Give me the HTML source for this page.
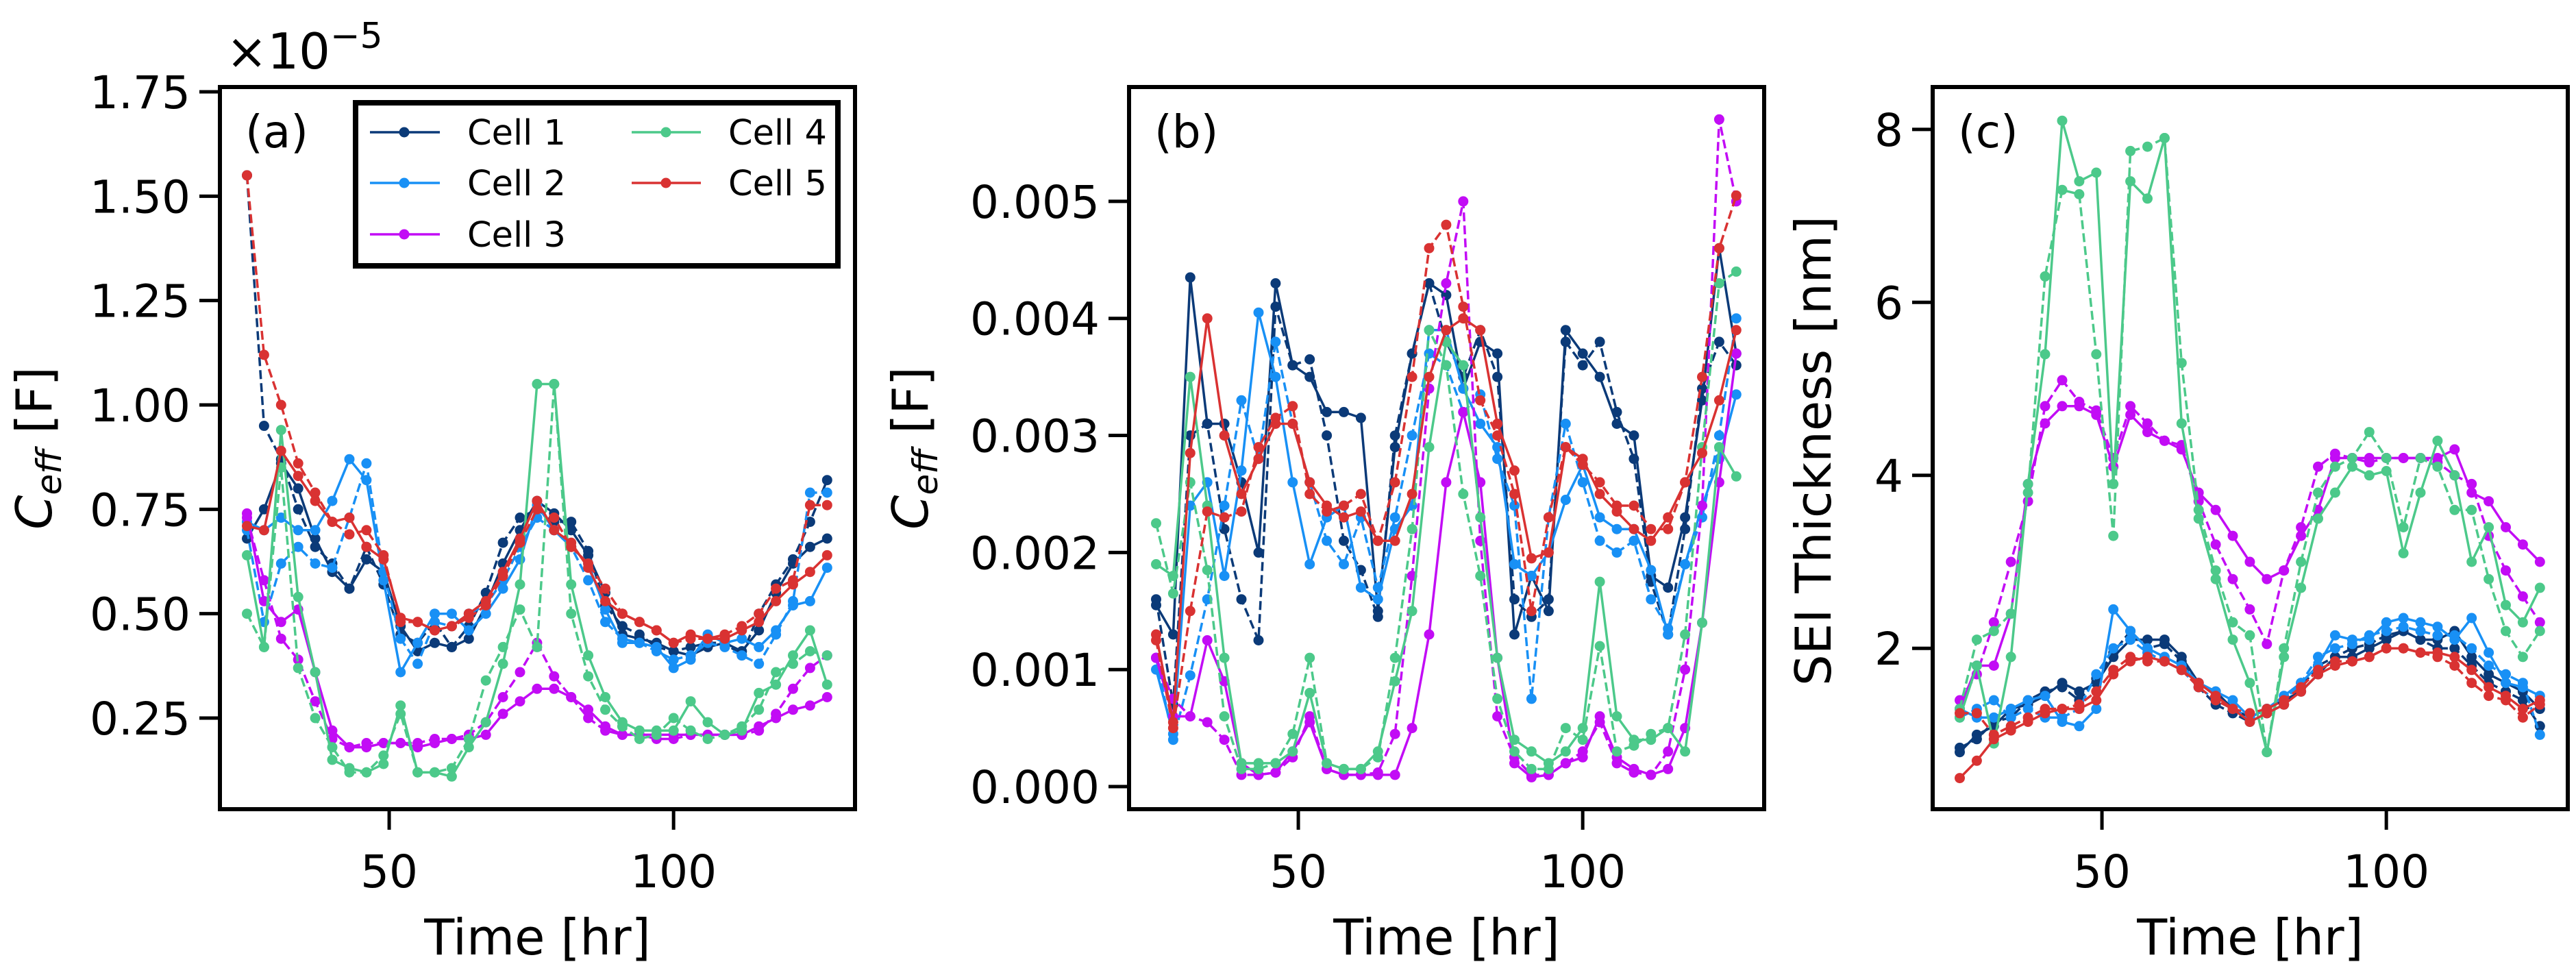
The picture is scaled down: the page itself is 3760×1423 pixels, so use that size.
<!DOCTYPE html>
<html><head><meta charset="utf-8">
<style>
html,body{margin:0;padding:0;background:#fff;}
svg{display:block;font-family:"DejaVu Sans","Liberation Sans",sans-serif;}
</style></head>
<body>
<svg id="fig" width="3760" height="1423" viewBox="0 0 3760 1423" xmlns="http://www.w3.org/2000/svg"></svg>
<script>
// ---------- data ----------
const times = [25,28,31,34,37,40,43,46,49,52,55,58,61,64,67,70,73,76,79,82,85,88,91,94,97,100,103,106,109,112,115,118,121,124,127];
const cellNames = ["Cell 1","Cell 2","Cell 3","Cell 4","Cell 5"];
const cellColors = ["#0b3a78","#1890f5","#c20cf5","#4cc98a","#d93232"];

// Panel (a): Ceff x1e-5
const aCell1Solid = [0.68,0.75,0.86,0.80,0.68,0.60,0.56,0.63,0.60,0.47,0.41,0.43,0.42,0.44,0.52,0.62,0.70,0.77,0.74,0.70,0.64,0.55,0.45,0.44,0.43,0.41,0.40,0.42,0.43,0.41,0.46,0.55,0.62,0.66,0.68];
const aCell1Dash  = [1.55,0.95,0.87,0.75,0.66,0.62,0.56,0.66,0.57,0.45,0.43,0.48,0.42,0.47,0.55,0.67,0.73,0.75,0.72,0.72,0.65,0.52,0.47,0.45,0.42,0.41,0.42,0.43,0.43,0.40,0.50,0.57,0.63,0.72,0.82];
const aCell2Solid = [0.72,0.70,0.73,0.70,0.70,0.77,0.87,0.82,0.58,0.36,0.43,0.50,0.50,0.46,0.50,0.56,0.63,0.76,0.70,0.66,0.62,0.51,0.43,0.43,0.42,0.37,0.39,0.45,0.43,0.44,0.42,0.46,0.52,0.53,0.61];
const aCell2Dash  = [0.70,0.48,0.62,0.66,0.62,0.61,0.73,0.86,0.60,0.44,0.38,0.48,0.47,0.50,0.52,0.58,0.66,0.73,0.70,0.66,0.58,0.48,0.44,0.43,0.41,0.39,0.40,0.43,0.42,0.40,0.38,0.45,0.53,0.79,0.79];
const aCell3Solid = [0.74,0.53,0.48,0.51,0.36,0.22,0.18,0.18,0.19,0.19,0.18,0.19,0.20,0.20,0.21,0.26,0.29,0.32,0.32,0.30,0.27,0.23,0.21,0.21,0.21,0.21,0.21,0.21,0.21,0.21,0.23,0.25,0.27,0.28,0.30];
const aCell3Dash  = [0.73,0.58,0.44,0.39,0.29,0.20,0.18,0.19,0.19,0.19,0.19,0.20,0.20,0.21,0.24,0.30,0.36,0.43,0.35,0.30,0.25,0.22,0.21,0.21,0.20,0.20,0.21,0.21,0.21,0.21,0.22,0.26,0.32,0.37,0.40];
const aCell4Solid = [0.64,0.42,0.94,0.54,0.36,0.15,0.13,0.12,0.14,0.28,0.12,0.12,0.11,0.18,0.24,0.38,0.57,1.05,1.05,0.57,0.40,0.30,0.24,0.22,0.22,0.22,0.29,0.24,0.21,0.22,0.31,0.33,0.40,0.46,0.33];
const aCell4Dash  = [0.50,0.42,0.85,0.37,0.25,0.18,0.12,0.12,0.16,0.26,0.12,0.12,0.13,0.20,0.34,0.42,0.51,0.42,1.05,0.50,0.35,0.27,0.23,0.20,0.21,0.25,0.22,0.20,0.21,0.23,0.27,0.36,0.38,0.41,0.40];
const aCell5Solid = [0.71,0.70,0.89,0.83,0.77,0.72,0.73,0.66,0.63,0.49,0.48,0.46,0.47,0.50,0.53,0.60,0.68,0.77,0.70,0.67,0.61,0.53,0.50,0.48,0.46,0.43,0.45,0.44,0.44,0.46,0.48,0.53,0.57,0.60,0.64];
const aCell5Dash  = [1.55,1.12,1.00,0.86,0.79,0.72,0.69,0.70,0.64,0.48,0.48,0.46,0.47,0.49,0.52,0.59,0.67,0.75,0.73,0.66,0.62,0.56,0.50,0.48,0.46,0.43,0.44,0.44,0.45,0.47,0.50,0.56,0.58,0.76,0.76];

// Panel (b): Ceff in mF (x1e-3 F)
const bCell1Solid = [1.55,1.3,4.35,3.1,3.1,2.6,2.0,4.3,3.6,3.5,3.2,3.2,3.15,1.5,2.9,3.7,4.3,4.2,3.4,3.8,3.7,1.3,1.8,1.5,3.9,3.7,3.5,3.1,3.0,1.8,1.7,2.3,3.3,4.6,3.7];
const bCell1Dash  = [1.6,0.7,3.0,3.1,2.2,1.6,1.25,4.1,3.6,3.65,3.0,2.1,1.85,1.45,3.0,3.7,4.3,3.8,3.5,3.9,3.5,1.6,1.45,1.6,3.8,3.6,3.8,3.2,2.8,1.75,1.3,2.2,3.4,3.8,3.6];
const bCell2Solid = [1.0,0.45,2.4,2.6,1.8,2.7,4.05,3.5,2.6,1.9,2.3,2.4,1.7,1.6,2.2,2.4,3.9,3.9,3.4,3.1,2.9,1.9,1.8,2.0,2.45,2.75,2.3,2.2,2.2,1.85,1.3,1.9,2.4,2.8,3.35];
const bCell2Dash  = [1.1,0.4,0.95,1.6,2.4,3.3,2.8,3.8,3.1,2.6,2.1,1.9,2.3,1.7,2.3,3.0,3.7,3.6,3.2,3.35,2.8,2.4,0.75,2.3,3.1,2.6,2.1,2.0,2.1,1.6,1.35,1.9,2.3,3.0,4.0];
const bCell3Solid = [1.1,0.6,0.6,1.25,0.9,0.2,0.1,0.12,0.3,0.55,0.15,0.1,0.1,0.1,0.1,0.5,1.3,2.6,3.2,2.6,1.1,0.2,0.08,0.1,0.2,0.25,0.6,0.25,0.15,0.1,0.15,0.5,1.4,2.6,3.7];
const bCell3Dash  = [1.1,0.75,0.6,0.55,0.4,0.1,0.1,0.12,0.25,0.6,0.15,0.1,0.1,0.12,0.45,1.8,3.4,4.3,5.0,2.1,0.6,0.25,0.1,0.1,0.2,0.3,0.55,0.2,0.12,0.1,0.3,1.0,2.4,5.7,5.0];
const bCell4Solid = [1.9,1.8,3.5,2.4,1.1,0.2,0.2,0.2,0.3,0.8,0.2,0.15,0.15,0.3,0.9,1.5,2.9,3.8,3.6,2.3,1.1,0.4,0.3,0.2,0.3,0.5,1.75,0.6,0.4,0.4,0.5,0.3,1.4,2.9,2.65];
const bCell4Dash  = [2.25,1.65,2.6,1.85,0.6,0.15,0.15,0.2,0.45,1.1,0.2,0.15,0.15,0.25,1.1,2.2,3.9,3.6,2.5,1.8,0.75,0.3,0.15,0.15,0.5,0.4,1.2,0.3,0.35,0.45,0.5,1.3,2.9,4.3,4.4];
const bCell5Solid = [1.3,0.55,2.85,4.0,3.0,2.5,2.8,3.1,3.1,2.6,2.4,2.3,2.35,2.1,2.1,2.5,3.5,3.9,4.0,3.9,3.1,2.7,1.95,2.0,2.9,2.8,2.5,2.35,2.2,2.1,2.3,2.6,2.85,3.3,3.9];
const bCell5Dash  = [1.25,0.5,1.5,2.35,2.3,2.35,2.9,3.15,3.25,2.5,2.35,2.4,2.5,2.1,2.6,3.5,4.6,4.8,4.1,3.3,3.0,2.5,1.5,2.3,2.9,2.75,2.6,2.4,2.4,2.2,2.2,2.6,3.5,4.6,5.05];

// Panel (c): SEI thickness nm
const cCell1Solid = [0.8,1.0,1.1,1.3,1.35,1.45,1.6,1.5,1.6,1.9,2.1,2.1,2.1,1.9,1.6,1.5,1.3,1.2,1.3,1.4,1.5,1.7,1.9,1.9,2.0,2.1,2.2,2.1,2.1,2.2,1.9,1.7,1.6,1.5,1.3];
const cCell1Dash  = [0.85,0.95,1.15,1.2,1.4,1.5,1.55,1.4,1.65,1.95,2.2,2.0,2.05,1.85,1.55,1.35,1.25,1.15,1.25,1.35,1.55,1.8,1.9,2.0,2.05,2.15,2.2,2.1,2.0,2.0,1.8,1.6,1.5,1.4,1.1];
const cCell2Solid = [1.3,1.2,1.2,1.3,1.4,1.45,1.15,1.1,1.3,2.45,2.2,2.0,1.9,1.8,1.6,1.5,1.4,1.2,1.3,1.45,1.6,1.8,2.15,2.1,2.1,2.3,2.35,2.3,2.25,2.1,2.35,1.95,1.6,1.55,1.45];
const cCell2Dash  = [1.2,1.3,1.4,1.2,1.3,1.2,1.2,1.3,1.7,2.0,2.1,1.95,1.85,1.75,1.55,1.4,1.3,1.2,1.3,1.4,1.6,1.9,2.0,2.05,2.15,2.2,2.25,2.2,2.15,2.15,2.0,1.8,1.7,1.6,1.0];
const cCell3Solid = [1.3,1.8,1.8,2.4,3.9,4.6,4.8,4.8,4.7,4.1,4.7,4.5,4.4,4.3,3.8,3.6,3.3,3.0,2.8,2.9,3.3,3.6,4.2,4.2,4.2,4.2,4.2,4.2,4.2,4.3,3.8,3.7,3.4,3.2,3.0];
const cCell3Dash  = [1.4,1.7,2.3,3.0,3.7,4.8,5.1,4.85,4.75,4.2,4.8,4.6,4.4,4.35,3.7,3.2,2.8,2.45,2.05,2.9,3.4,4.1,4.25,4.2,4.15,4.2,4.2,4.2,4.15,4.0,3.9,3.3,2.9,2.6,2.3];
const cCell4Solid = [1.2,1.8,0.9,1.9,3.9,5.4,8.1,7.4,7.5,3.9,7.4,7.2,7.9,4.6,3.5,2.8,2.1,1.6,0.8,1.9,2.7,3.5,3.8,4.1,4.0,4.05,3.1,3.8,4.4,4.0,3.0,3.4,2.5,2.3,2.7];
const cCell4Dash  = [1.3,2.1,2.2,2.4,3.8,6.3,7.3,7.25,5.4,3.3,7.75,7.8,7.9,5.3,3.6,2.9,2.3,2.15,0.8,2.0,3.0,3.8,4.1,4.2,4.5,4.2,3.4,4.2,4.1,3.6,3.6,2.8,2.2,1.9,2.2];
const cCell5Solid = [0.5,0.7,0.95,1.05,1.15,1.25,1.3,1.3,1.4,1.7,1.85,1.9,1.85,1.75,1.6,1.45,1.3,1.15,1.25,1.35,1.5,1.7,1.8,1.85,1.9,2.0,2.0,1.95,1.95,1.9,1.75,1.55,1.45,1.3,1.4];
const cCell5Dash  = [1.25,1.25,1.0,1.1,1.2,1.3,1.3,1.35,1.5,1.75,1.9,1.85,1.85,1.75,1.55,1.4,1.3,1.25,1.3,1.4,1.55,1.75,1.85,1.85,1.9,2.0,2.0,1.95,1.9,1.8,1.6,1.45,1.4,1.2,1.35];

const aTicks = [0.25,0.50,0.75,1.00,1.25,1.50,1.75];
const aTickLabels = ["0.25","0.50","0.75","1.00","1.25","1.50","1.75"];
const bTicks = [0,1,2,3,4,5];
const bTickLabels = ["0.000","0.001","0.002","0.003","0.004","0.005"];
const cTicks = [2,4,6,8];
const cTickLabels = ["2","4","6","8"];
const xTicks = [50,100];
const xTickLabels = ["50","100"];

// ---------- drawing ----------
const NS = "http://www.w3.org/2000/svg";
const svg = document.getElementById("fig");
function mk(tag, attrs, parent){
  const e = document.createElementNS(NS, tag);
  for (const k in attrs) e.setAttribute(k, attrs[k]);
  (parent||svg).appendChild(e);
  return e;
}
const XMIN = 20.24, XMAX = 131.9;
const TOP = 127, BOTTOM = 1181;

const panels = [
  {id:"a", left:321, right:1248, ymin:0.0317, ymax:1.7615, ticks:aTicks, labels:aTickLabels,
   series:[[aCell1Solid,aCell1Dash],[aCell2Solid,aCell2Dash],[aCell3Solid,aCell3Dash],[aCell4Solid,aCell4Dash],[aCell5Solid,aCell5Dash]]},
  {id:"b", left:1648, right:2575, ymin:-0.193, ymax:5.977, ticks:bTicks, labels:bTickLabels,
   series:[[bCell1Solid,bCell1Dash],[bCell2Solid,bCell2Dash],[bCell3Solid,bCell3Dash],[bCell4Solid,bCell4Dash],[bCell5Solid,bCell5Dash]]},
  {id:"c", left:2821, right:3748, ymin:0.14, ymax:8.49, ticks:cTicks, labels:cTickLabels,
   series:[[cCell1Solid,cCell1Dash],[cCell2Solid,cCell2Dash],[cCell3Solid,cCell3Dash],[cCell4Solid,cCell4Dash],[cCell5Solid,cCell5Dash]]}
];

panels.forEach(p => {
  const g = mk("g", {});
  
  
  const xs = t => p.left + (t - XMIN) / (XMAX - XMIN) * (p.right - p.left);
  const ys = v => BOTTOM - (v - p.ymin) / (p.ymax - p.ymin) * (BOTTOM - TOP);
  const clipId = "clip-" + p.id;
  const cp = mk("clipPath", {id: clipId}, g);
  mk("rect", {x:p.left, y:TOP, width:p.right-p.left, height:BOTTOM-TOP}, cp);
  const plot = mk("g", {"clip-path":"url(#"+clipId+")"}, g);
  p.series.forEach((pair, ci) => {
    pair.forEach((vals, si) => {
      const pts = vals.map((v,i) => xs(times[i]).toFixed(1)+","+ys(v).toFixed(1)).join(" ");
      const sg = mk("g", {}, plot);
      
      
      const attrs = {points:pts, fill:"none", stroke:cellColors[ci], "stroke-width":3.5, "stroke-linejoin":"round"};
      if (si) attrs["stroke-dasharray"] = "13,6";
      mk("polyline", attrs, sg);
      vals.forEach((v,i) => {
        const c = mk("circle", {cx:xs(times[i]).toFixed(1), cy:ys(v).toFixed(1), r:7.5, fill:cellColors[ci]}, sg);
        
        
      });
    });
  });
  // spines
  const fr = mk("rect", {x:p.left, y:TOP, width:p.right-p.left, height:BOTTOM-TOP, fill:"none", stroke:"#000", "stroke-width":6}, g);
  
  
  // y ticks
  p.ticks.forEach((v,i) => {
    const y = ys(v);
    mk("line", {x1:p.left-30, x2:p.left, y1:y, y2:y, stroke:"#000", "stroke-width":5}, g);
    const t = mk("text", {x:p.left-43, y:y+24, "text-anchor":"end", "font-size":66, fill:"#000"}, g);
    t.textContent = p.labels[i];
    
    
  });
  xTicks.forEach((v,i) => {
    const x = xs(v);
    mk("line", {x1:x, x2:x, y1:BOTTOM, y2:BOTTOM+30, stroke:"#000", "stroke-width":5}, g);
    const t = mk("text", {x:x, y:1295, "text-anchor":"middle", "font-size":66, fill:"#000"}, g);
    t.textContent = xTickLabels[i];
    
    
  });
  const xl = mk("text", {x:(p.left+p.right)/2, y:1393, "text-anchor":"middle", "font-size":72, fill:"#000"}, g);
  xl.textContent = "Time [hr]";
  
  
  const pl = mk("text", {x:p.left+37, y:215, "font-size":66, fill:"#000"}, g);
  pl.textContent = "(" + p.id + ")";
  
  
});
</script>

<svg style="position:absolute;left:0;top:0" width="3760" height="1423" viewBox="0 0 3760 1423" xmlns="http://www.w3.org/2000/svg" font-family="DejaVu Sans, Liberation Sans, sans-serif">
  <text transform="translate(75,654) rotate(-90)" text-anchor="middle" font-size="72"><tspan font-style="italic">C</tspan><tspan font-style="italic" font-size="50" dy="14">eff</tspan><tspan dy="-14"> [F]</tspan></text>
  <text transform="translate(1354,654) rotate(-90)" text-anchor="middle" font-size="72"><tspan font-style="italic">C</tspan><tspan font-style="italic" font-size="50" dy="14">eff</tspan><tspan dy="-14"> [F]</tspan></text>
  <text transform="translate(2672,658) rotate(-90)" text-anchor="middle" font-size="72">SEI Thickness [nm]</text>
  <text x="330" y="100" font-size="72">×10<tspan font-size="52" dy="-30">−5</tspan></text>
  <g>
    <rect x="519" y="150" width="704" height="238" fill="#fff" stroke="#000" stroke-width="8"/>
    <g><line x1="540" x2="642" y1="193" y2="193" stroke="#0b3a78" stroke-width="3.5"/><circle cx="590" cy="193" r="7.5" fill="#0b3a78"/><text x="682" y="211" font-size="51">Cell 1</text></g>
    <g><line x1="540" x2="642" y1="267" y2="267" stroke="#1890f5" stroke-width="3.5"/><circle cx="590" cy="267" r="7.5" fill="#1890f5"/><text x="682" y="285" font-size="51">Cell 2</text></g>
    <g><line x1="540" x2="642" y1="342" y2="342" stroke="#c20cf5" stroke-width="3.5"/><circle cx="590" cy="342" r="7.5" fill="#c20cf5"/><text x="682" y="360" font-size="51">Cell 3</text></g>
    <g><line x1="922" x2="1023" y1="193" y2="193" stroke="#4cc98a" stroke-width="3.5"/><circle cx="972" cy="193" r="7.5" fill="#4cc98a"/><text x="1063" y="211" font-size="51">Cell 4</text></g>
    <g><line x1="922" x2="1023" y1="267" y2="267" stroke="#d93232" stroke-width="3.5"/><circle cx="972" cy="267" r="7.5" fill="#d93232"/><text x="1063" y="285" font-size="51">Cell 5</text></g>
  </g>
</svg>
</body></html>
